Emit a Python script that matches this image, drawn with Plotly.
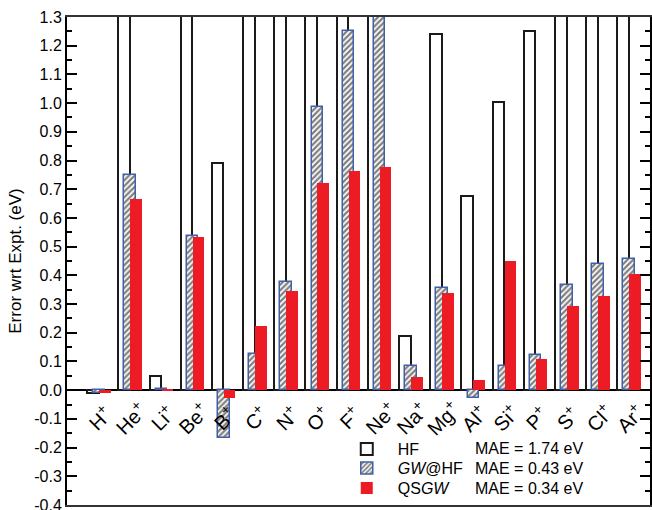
import numpy as np
import plotly.graph_objects as go

ions = ["H", "He", "Li", "Be", "B", "C", "N", "O", "F", "Ne",
        "Na", "Mg", "Al", "Si", "P", "S", "Cl", "Ar"]
hf = [-0.01, 2.10, 0.05, 1.60, 0.79, 1.80, 2.00, 2.40, 2.60, 2.80,
      0.19, 1.24, 0.675, 1.005, 1.25, 1.60, 1.70, 1.90]
gw_hf = [-0.01, 0.75, 0.005, 0.537, -0.165, 0.125, 0.378, 0.985, 1.25, 1.45,
         0.083, 0.356, -0.027, 0.085, 0.124, 0.366, 0.438, 0.456]
qsgw = [-0.01, 0.667, 0.003, 0.533, -0.027, 0.222, 0.345, 0.722, 0.765, 0.777,
        0.045, 0.34, 0.035, 0.45, 0.108, 0.292, 0.327, 0.403]
series_names = ["HF", "<i>GW</i>@HF", "QS<i>GW</i>"]
mae_texts = ["MAE = 1.74 eV", "MAE = 0.43 eV", "MAE = 0.34 eV"]
ytick_vals = [round(-0.4 + 0.1 * k, 1) for k in range(18)]
ytick_text = ["-0.4", "-0.3", "-0.2", "-0.1", "0.0", "0.1", "0.2", "0.3", "0.4",
              "0.5", "0.6", "0.7", "0.8", "0.9", "1.0", "1.1", "1.2", "1.3"]

idx = np.arange(len(ions))
FONT = "Liberation Sans, Arial, Helvetica, sans-serif"
W = 0.37
RED = "#ED1C24"
BLUE = "#4060A8"

fig = go.Figure()
fig.add_trace(go.Bar(
    x=idx, y=hf, name=series_names[0], width=W, offset=-0.385, legend="legend",
    marker=dict(color="white", line=dict(color="#1a1a1a", width=2)),
))
fig.add_trace(go.Bar(
    x=idx, y=gw_hf, name=series_names[1], width=W, offset=-0.19, legend="legend2",
    marker=dict(color="white", line=dict(color=BLUE, width=1.5),
                pattern=dict(shape="/", fgcolor="black", bgcolor="white",
                             size=4, solidity=0.55)),
))
fig.add_trace(go.Bar(
    x=idx, y=qsgw, name=series_names[2], width=W, offset=0.0, legend="legend3",
    marker=dict(color=RED, line=dict(color=RED, width=0)),
))

for i, ion in enumerate(ions):
    fig.add_annotation(x=i, y=-0.095, xref="x", yref="y",
                       text=f"{ion}<sup>+</sup>", showarrow=False,
                       textangle=-45, font=dict(size=20, color="black", family=FONT),
                       xanchor="center", yanchor="middle")

row_y = [0.1148, 0.0758, 0.0348]
for t, yy in zip(mae_texts, row_y):
    fig.add_annotation(x=0.697, y=yy, xref="paper", yref="paper", text=t,
                       showarrow=False, xanchor="left", yanchor="middle",
                       font=dict(size=16, color="black", family=FONT))

leg_common = dict(x=0.461, xanchor="left", yanchor="middle",
                  bgcolor="rgba(0,0,0,0)", font=dict(size=16, family=FONT),
                  itemwidth=52)

fig.update_layout(
    width=652, height=510,
    margin=dict(l=67, r=2, t=17, b=5, autoexpand=False),
    paper_bgcolor="white", plot_bgcolor="white",
    barmode="overlay", bargap=0,
    font=dict(family=FONT, size=16, color="black"),
    showlegend=True,
    legend=dict(y=row_y[0], **leg_common),
    legend2=dict(y=row_y[1], **leg_common),
    legend3=dict(y=row_y[2], **leg_common),
    xaxis=dict(range=[-1.03, 17.66], showticklabels=False, ticks="",
               showgrid=False, zeroline=False, showline=True,
               linecolor="#333", linewidth=2, mirror=True, automargin=False),
    yaxis=dict(range=[-0.4, 1.3], tickvals=ytick_vals, ticktext=ytick_text,
               ticks="inside", ticklen=10, tickwidth=1.5, tickcolor="black",
               minor=dict(ticks="inside", ticklen=5, tickwidth=1.5,
                          tickcolor="black", dtick=0.05, showgrid=False),
               showgrid=False, zeroline=True, zerolinecolor="black",
               zerolinewidth=2, showline=True, linecolor="black", linewidth=2,
               mirror="ticks", automargin=False, ticklabeloverflow="allow",
               title=dict(text="Error wrt Expt. (eV)", font=dict(size=17, family=FONT),
                          standoff=8),
               tickfont=dict(size=16, family=FONT)),
)

# remove the browser's default 8px body margin so the figure sits at (0, 0)
fig.write_html("out.html", config={"displayModeBar": False},
               post_script="document.body.style.margin='0';")
